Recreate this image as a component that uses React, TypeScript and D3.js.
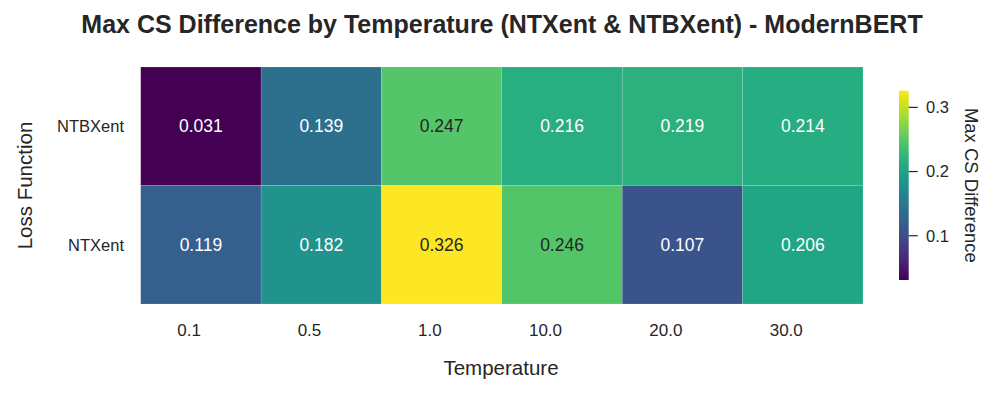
import React from "react";
import * as d3 from "d3";

const temperatures = ["0.1", "0.5", "1.0", "10.0", "20.0", "30.0"];
const lossFunctions = ["NTBXent", "NTXent"];
const ntbxentValues = [0.031, 0.139, 0.247, 0.216, 0.219, 0.214];
const ntxentValues = [0.119, 0.182, 0.326, 0.246, 0.107, 0.206];
const cbTicks = [0.1, 0.2, 0.3];

const W = 996;
const H = 395;
const plot = { left: 140.7, right: 863, top: 67, bottom: 304 };
const cb = { x: 899, w: 9.7, top: 90.7, bottom: 280 };
const font = "'Liberation Sans', Arial, Helvetica, sans-serif";
const ink = "#262626";

export default function App() {
  const rows = [ntbxentValues, ntxentValues];
  const all = rows.flat();
  const vmin = d3.min(all) as number;
  const vmax = d3.max(all) as number;

  const x = d3.scaleBand().domain(temperatures).range([plot.left, plot.right]);
  const y = d3.scaleBand().domain(lossFunctions).range([plot.top, plot.bottom]);
  const color = d3.scaleSequential(d3.interpolateViridis).domain([vmin, vmax]);
  const cbScale = d3.scaleLinear().domain([vmin, vmax]).range([cb.bottom, cb.top]);

  const cells = lossFunctions.flatMap((lf, i) =>
    temperatures.map((t, j) => ({ lf, t, v: rows[i][j] }))
  );

  // gradient stops for the colorbar
  const stops = d3.range(0, 1.0001, 0.05);

  return (
    <svg width={W} height={H} style={{ position: "absolute", left: 0, top: 0 }} fontFamily={font}>
      <defs>
        <linearGradient id="cbgrad" x1="0" y1="1" x2="0" y2="0">
          {stops.map((s) => (
            <stop key={s} offset={s} stopColor={d3.interpolateViridis(s)} />
          ))}
        </linearGradient>
      </defs>
      <rect width={W} height={H} fill="#fff" />
      <text x={502} y={33} textAnchor="middle" fontSize={25} fontWeight="bold" fill={ink}>
        Max CS Difference by Temperature (NTXent &amp; NTBXent) - ModernBERT
      </text>

      {cells.map((c) => {
        const cx = (x(c.t) as number) + x.bandwidth() / 2;
        const cy = (y(c.lf) as number) + y.bandwidth() / 2;
        const light = d3.hsl(color(c.v)).l > 0.5;
        return (
          <g key={c.lf + c.t}>
            <rect
              x={x(c.t)}
              y={y(c.lf)}
              width={x.bandwidth()}
              height={y.bandwidth()}
              fill={color(c.v)}
              stroke="#ffffff"
              strokeOpacity={0.25}
              strokeWidth={0.5}
            />
            <text x={cx} y={cy} dy="0.35em" textAnchor="middle" fontSize={17.5} fill={light ? ink : "#ffffff"}>
              {c.v.toFixed(3)}
            </text>
          </g>
        );
      })}

      {/* x tick labels are right-aligned on the cell centres */}
      {temperatures.map((t) => (
        <text key={t} x={(x(t) as number) + x.bandwidth() / 2} y={336} textAnchor="end" fontSize={17} fill={ink}>
          {t}
        </text>
      ))}
      <text x={501} y={375} textAnchor="middle" fontSize={20.5} fill={ink}>
        Temperature
      </text>

      {lossFunctions.map((lf) => (
        <text key={lf} x={124} y={(y(lf) as number) + y.bandwidth() / 2} dy="0.35em" textAnchor="end" fontSize={16.5} fill={ink}>
          {lf}
        </text>
      ))}
      <text transform={`translate(32,${(plot.top + plot.bottom) / 2}) rotate(-90)`} textAnchor="middle" fontSize={20.5} fill={ink}>
        Loss Function
      </text>

      <rect x={cb.x} y={cb.top} width={cb.w} height={cb.bottom - cb.top} fill="url(#cbgrad)" />
      {cbTicks.map((tk) => (
        <g key={tk} transform={`translate(0,${cbScale(tk)})`}>
          <line x1={cb.x + cb.w} x2={cb.x + cb.w + 9} stroke={ink} strokeWidth={1.2} />
          <text x={926} dy="0.35em" fontSize={16.5} fill={ink}>
            {tk.toFixed(1)}
          </text>
        </g>
      ))}
      <text transform={`translate(965,${(cb.top + cb.bottom) / 2}) rotate(90)`} textAnchor="middle" fontSize={18.5} fill={ink}>
        Max CS Difference
      </text>
    </svg>
  );
}
